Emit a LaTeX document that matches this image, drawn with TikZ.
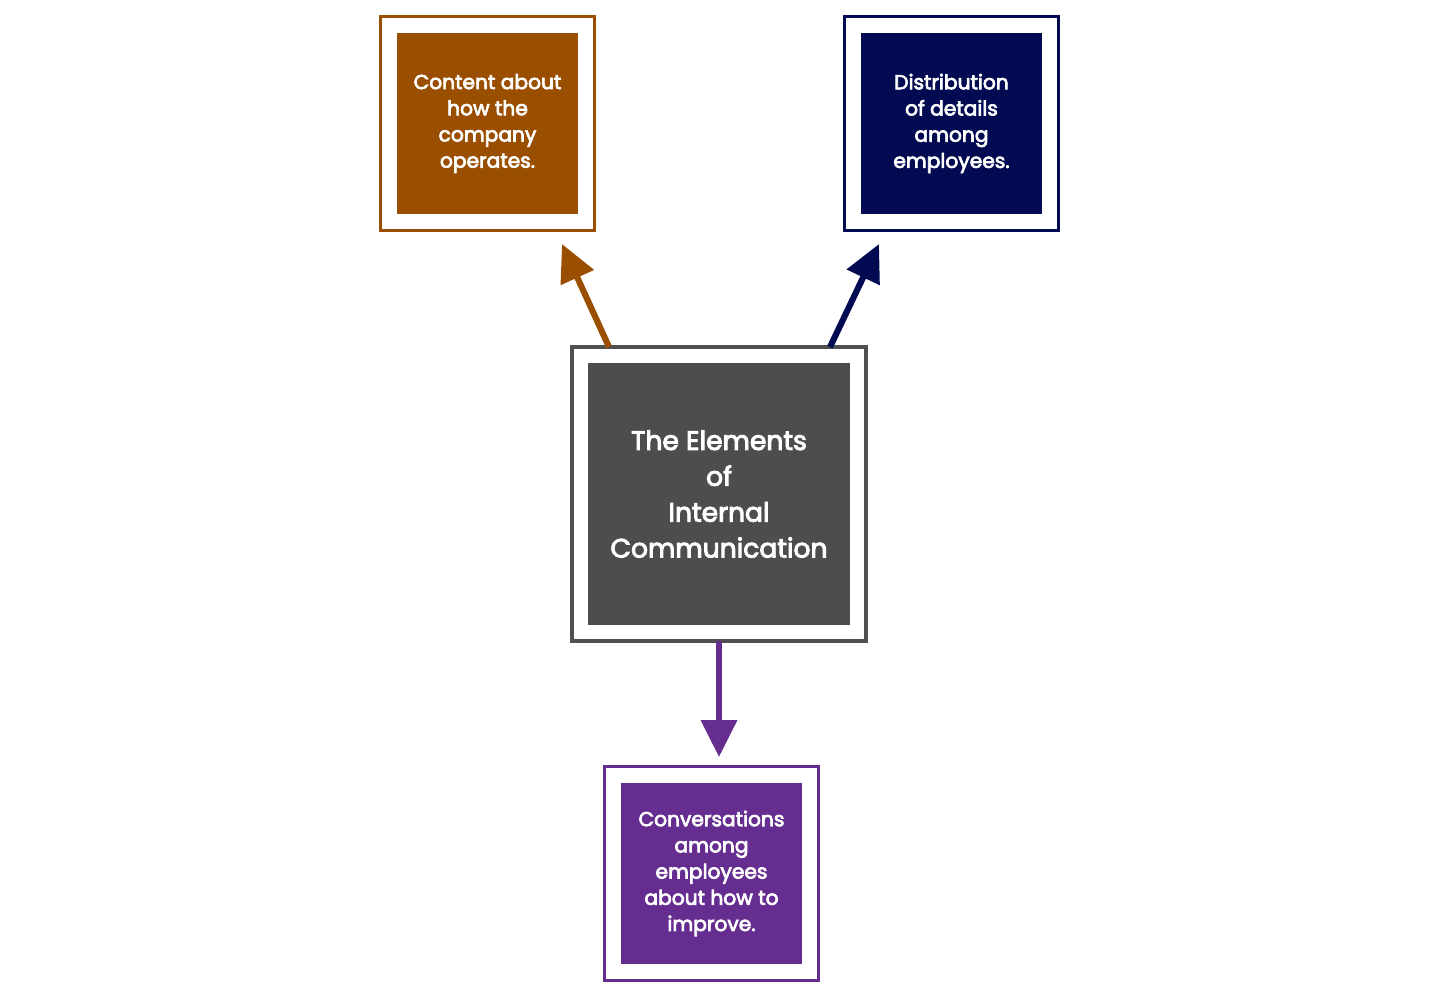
\documentclass[tikz,border=0pt]{standalone}
\usepackage{fontspec}
\setmainfont{Poppins}[BoldFont=Poppins, BoldFeatures={FakeBold=3.5}]
\usetikzlibrary{arrows.meta}
\definecolor{corange}{HTML}{9A4E00}
\definecolor{cnavy}{HTML}{020A52}
\definecolor{cgray}{HTML}{4D4D4D}
\definecolor{cgrayb}{HTML}{505050}
\definecolor{cpurple}{HTML}{652D90}
\tikzset{
  outerbox/.style={draw=#1, line width=0.87pt, fill=white, minimum size=2.13cm, inner sep=0pt},
  innerbox/.style={fill=#1, minimum size=1.81cm, inner sep=0pt, text=white, align=center,
    font=\fontsize{5.75}{7.45}\selectfont\bfseries},
  arr/.style={draw=#1, line width=1.75pt, -{Triangle[length=10.5pt,width=10pt]}}
}
\begin{document}
\begin{tikzpicture}[x=0.01cm,y=-0.01cm]
\useasboundingbox (0,0) rectangle (1440,1000);
% top left
\node[outerbox=corange] (oa) at (487.5,123.5) {};
\node[innerbox=corange] (ia) at (oa) {Content about\\how the\\company\\operates.};
% top right
\node[outerbox=cnavy] (ob) at (951.5,123.5) {};
\node[innerbox=cnavy] (ib) at (ob) {Distribution\\of details\\among\\employees.};
% center
\node[outerbox=cgrayb, line width=0.95pt, minimum size=2.94cm] (oc) at (719,494) {};
\node[innerbox=cgray, minimum size=2.62cm, font=\fontsize{7.55}{10.2}\selectfont\bfseries] (ic) at (oc) {The Elements\\of\\Internal\\Communication};
% bottom
\node[outerbox=cpurple] (od) at (711.5,873.5) {};
\node[innerbox=cpurple] (id) at (od) {Conversations\\among\\employees\\about how to\\improve.};
% arrow ends
\coordinate (sa) at (609,347);
\coordinate (ta) at (562,244);
\coordinate (sb) at (830,347);
\coordinate (tb) at (879,244);
\coordinate (sd) at (719,641);
\coordinate (td) at (719,757);
\draw[arr=corange] (sa) -- (ta);
\draw[arr=cnavy] (sb) -- (tb);
\draw[arr=cpurple] (sd) -- (td);
\end{tikzpicture}
\end{document}
